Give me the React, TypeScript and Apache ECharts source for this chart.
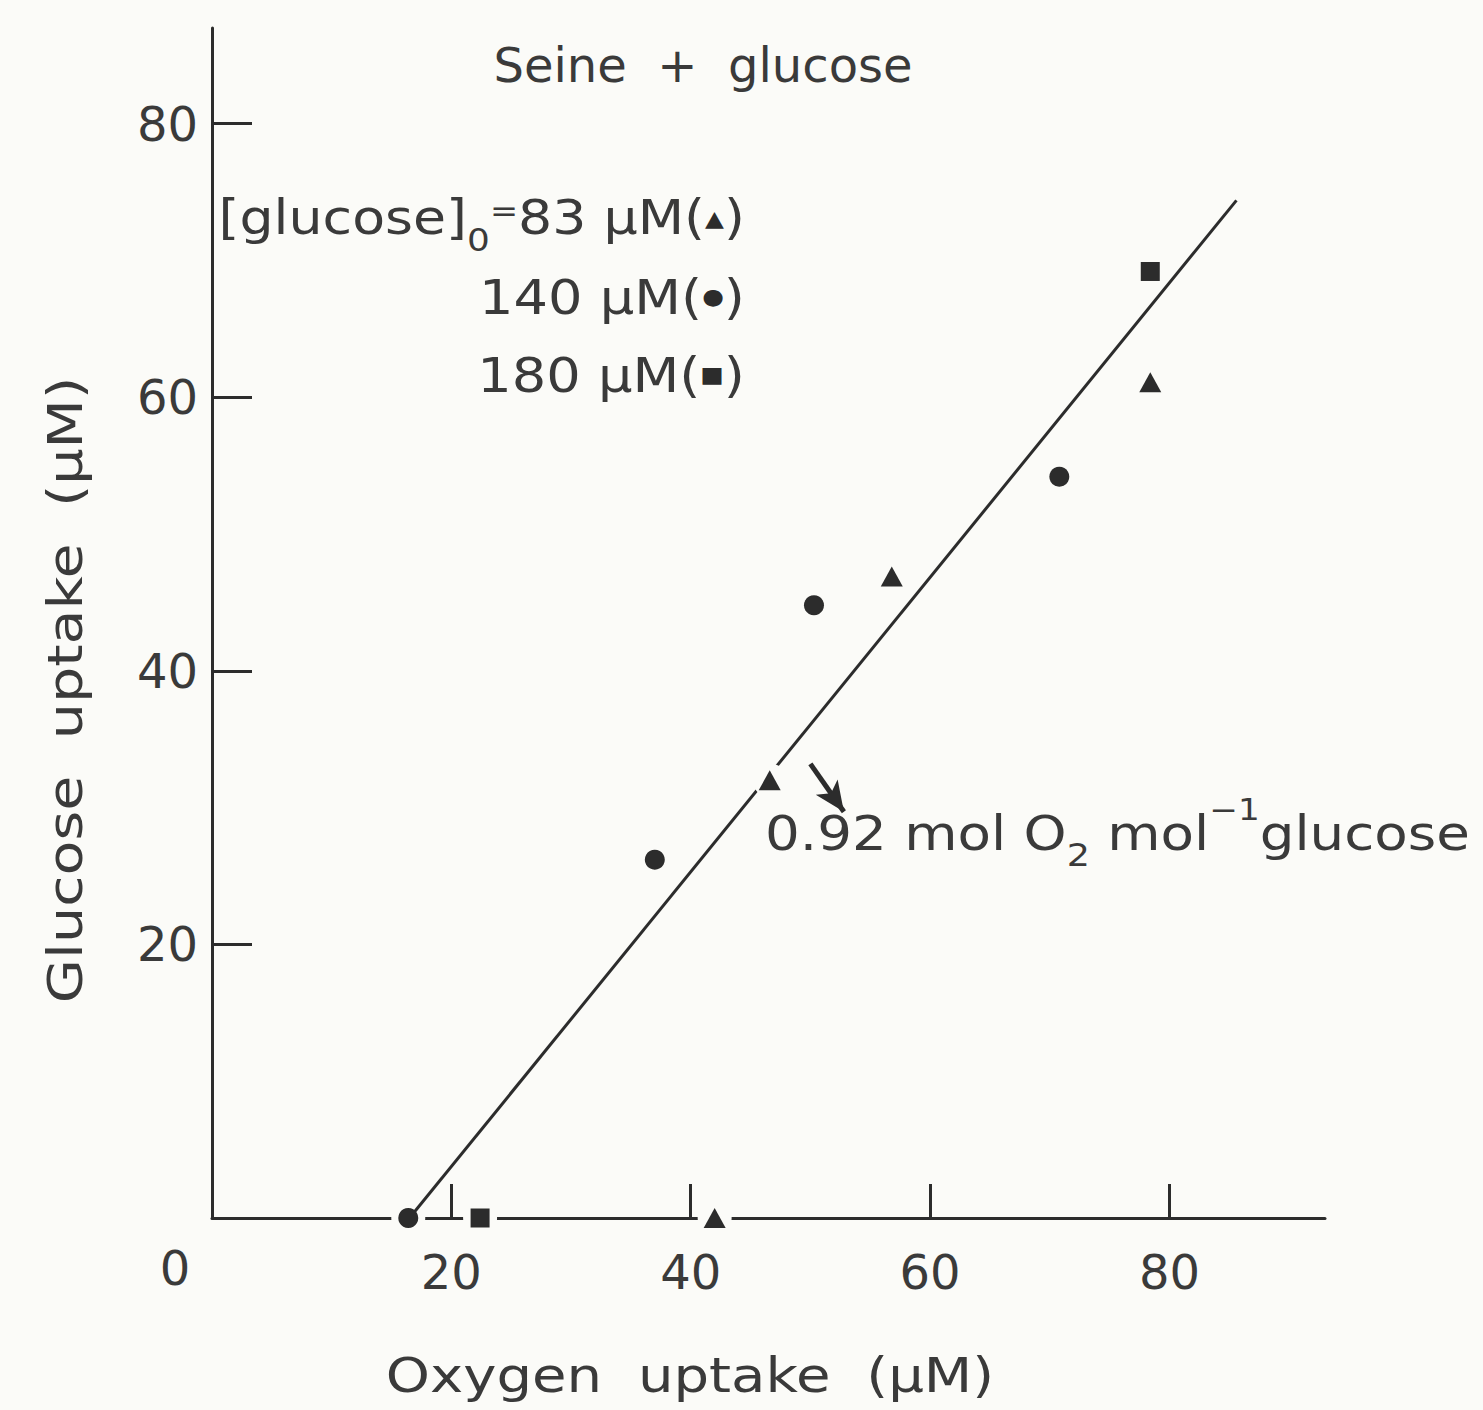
import React, { useEffect, useRef } from "react";
import * as echarts from "echarts";

// ---- data ----
const triX = [42.0, 46.6, 56.8, 78.4];
const triY = [0, 32.0, 46.9, 61.1];
const circX = [16.4, 37.0, 50.3, 70.8];
const circY = [0, 26.2, 44.8, 54.2];
const sqX = [22.4, 78.4];
const sqY = [0, 69.2];
const fitX = [16.5, 85.6];
const fitY = [0, 74.4];
const arrowFrom = [50.0, 33.2];
const arrowTo = [52.8, 29.7];
const tickValues = [20, 40, 60, 80];

const BG = "#fbfbf8";
const INK = "#2c2c2c";
const TXT = "#3a3a3a";
const FONT = "DejaVu Sans";

const fitAt = (x: number) =>
  fitY[0] + ((fitY[1] - fitY[0]) / (fitX[1] - fitX[0])) * (x - fitX[0]);

const allPts = [
  ...triX.map((x, i) => [x, triY[i]]),
  ...circX.map((x, i) => [x, circY[i]]),
  ...sqX.map((x, i) => [x, sqY[i]]),
];
const onAxis = allPts.filter((p) => p[1] === 0);
const onLine = allPts.filter((p) => p[1] !== 0 && Math.abs(p[1] - fitAt(p[0])) < 1);

export default function App() {
  const ref = useRef<HTMLDivElement>(null);
  useEffect(() => {
    if (!ref.current) return;
    const chart = echarts.init(ref.current, undefined, { renderer: "svg" });
    const axisCommon = {
      type: "value",
      splitLine: { show: false },
      axisLine: { show: true, onZero: false, lineStyle: { color: INK, width: 3 } },
    };
    const textBase = { fill: TXT, fontSize: 48, fontFamily: FONT };
    const marker = (data: number[][], symbol: string, size: any) => ({
      type: "scatter",
      data: data,
      symbol,
      symbolSize: size,
      itemStyle: { color: INK, opacity: 1 },
      z: 5,
    });
    const halo = (data: number[][], z: number) => ({
      type: "scatter",
      data,
      symbol: "circle",
      symbolSize: 34,
      itemStyle: { color: BG, opacity: 1 },
      silent: true,
      z,
    });
    const option: any = {
      backgroundColor: BG,
      animation: false,
      grid: { left: 212, top: 28, width: 1113, height: 1190 },
      xAxis: {
        ...axisCommon,
        min: 0,
        max: 93,
        axisTick: {
          show: true,
          inside: true,
          length: 34,
          customValues: tickValues,
          lineStyle: { color: INK, width: 3 },
        },
        axisLabel: { customValues: tickValues, margin: 30, fontSize: 48, color: TXT, fontFamily: FONT },
      },
      yAxis: {
        ...axisCommon,
        min: 0,
        max: 87,
        axisTick: {
          show: true,
          inside: true,
          length: 40,
          customValues: tickValues,
          lineStyle: { color: INK, width: 3 },
        },
        axisLabel: { customValues: tickValues, margin: 14, fontSize: 48, color: TXT, fontFamily: FONT },
      },
      series: [
        halo(onAxis, 1),
        {
          type: "line",
          data: fitX.map((x, i) => [x, fitY[i]]),
          symbol: "none",
          lineStyle: { color: INK, width: 3 },
          z: 2,
          markLine: {
            silent: true,
            symbol: ["none", "arrow"],
            symbolSize: [20, 30],
            label: { show: false },
            lineStyle: { color: INK, width: 5, type: "solid" },
            data: [[{ coord: arrowFrom }, { coord: arrowTo }]],
          },
        },
        halo(onLine, 3),
        marker(triX.map((x, i) => [x, triY[i]]), "triangle", [22, 20]),
        marker(circX.map((x, i) => [x, circY[i]]), "circle", 20),
        marker(sqX.map((x, i) => [x, sqY[i]]), "rect", 19),
      ],
      graphic: [
        {
          type: "text",
          x: 703,
          y: 65,
          style: { ...textBase, text: "Seine  +  glucose", align: "center", verticalAlign: "middle" },
        },
        {
          type: "text",
          x: 745,
          y: 218,
          scaleX: 1.12,
          style: {
            ...textBase,
            text: "[glucose]{sub|0}{eq|=}83 µM({sym|▲})",
            lineHeight: 76,
            align: "right",
            verticalAlign: "middle",
            rich: {
              sub: { fontSize: 32, lineHeight: 32, verticalAlign: "bottom", fill: TXT, fontFamily: FONT },
              eq: { fontSize: 30, verticalAlign: "middle", padding: [0, 0, 14, 0], fill: TXT, fontFamily: FONT },
              sym: { fontSize: 22, fill: INK, fontFamily: FONT },
            },
          },
        },
        {
          type: "text",
          x: 745,
          y: 297,
          scaleX: 1.13,
          style: {
            ...textBase,
            text: "140 µM({sym|●})",
            align: "right",
            verticalAlign: "middle",
            rich: { sym: { fontSize: 22, fill: INK, fontFamily: FONT } },
          },
        },
        {
          type: "text",
          x: 745,
          y: 375,
          scaleX: 1.13,
          style: {
            ...textBase,
            text: "180 µM({sym|■})",
            align: "right",
            verticalAlign: "middle",
            rich: { sym: { fontSize: 22, fill: INK, fontFamily: FONT } },
          },
        },
        {
          type: "text",
          x: 765,
          y: 833,
          scaleX: 1.14,
          style: {
            ...textBase,
            text: "0.92 mol O{sub|2} mol{sup|−1}glucose",
            lineHeight: 76,
            align: "left",
            verticalAlign: "middle",
            rich: {
              sub: { fontSize: 32, lineHeight: 32, verticalAlign: "bottom", fill: TXT, fontFamily: FONT },
              sup: { fontSize: 30, lineHeight: 30, verticalAlign: "top", fill: TXT, fontFamily: FONT },
            },
          },
        },
        {
          type: "text",
          x: 175,
          y: 1268,
          style: { ...textBase, text: "0", align: "center", verticalAlign: "middle" },
        },
        {
          type: "text",
          x: 690,
          y: 1375,
          scaleX: 1.17,
          style: { ...textBase, text: "Oxygen  uptake  (µM)", align: "center", verticalAlign: "middle" },
        },
        {
          type: "text",
          x: 65,
          y: 690,
          rotation: Math.PI / 2,
          scaleX: 1.19,
          style: { ...textBase, text: "Glucose  uptake  (µM)", align: "center", verticalAlign: "middle" },
        },
      ],
    };
    chart.setOption(option);
    return () => chart.dispose();
  }, []);
  return (
    <div
      ref={ref}
      style={{ position: "absolute", left: 0, top: 0, width: 1483, height: 1410 }}
    />
  );
}
